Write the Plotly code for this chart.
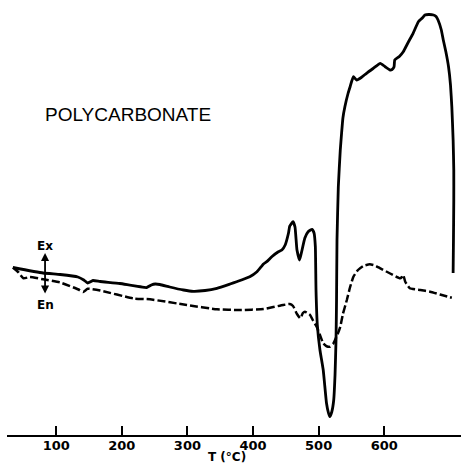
import plotly.graph_objects as go

# Solid curve (sample), temperature in deg C, signal in arbitrary units
solid_T = [34, 80, 106, 133, 142, 148, 156, 167, 197, 238,
           245, 251, 258, 273, 294, 309, 327, 345, 365, 375,
           395, 406, 416, 421, 429, 438, 444, 449, 454, 456,
           461, 464, 467, 471, 474, 479, 484, 490, 493, 495,
           496, 498, 502, 507, 512, 515, 517, 520, 523, 525,
           526.5, 527.3, 528, 530, 533, 535, 537, 540, 545, 548,
           553, 558, 565, 573, 583, 594, 601, 609, 612, 615,
           616, 623, 629, 636, 644, 652, 658, 662, 668, 675,
           679, 682, 687, 690, 694, 698, 701, 703, 705, 706,
           706, 705.5, 705]
solid_y = [167.5, 162, 160.5, 158, 155, 152, 154.5, 153.5, 151.5, 147.5,
           150, 151, 150.5, 148, 145, 143.7, 144.5, 146.7, 151, 153.3,
           158.3, 163.3, 171, 173.3, 178.5, 183, 185, 190, 201.7, 209,
           213.3, 208, 185, 175, 183, 197, 203.3, 205.7, 202, 188.3,
           145, 110, 85, 65, 31.7, 22, 18.3, 23, 35, 60,
           95, 135, 195, 248.3, 285, 302, 317, 328.3, 342, 348.3,
           358.3, 355, 357.5, 361.7, 366.5, 371.7, 368.5, 365, 365.5, 368.3,
           375, 378.5, 383.3, 392, 401.7, 413.3, 417, 420, 420.5, 420,
           418.5, 415, 405, 395, 383, 368.3, 350, 328.3, 295, 265,
           235, 195, 162]

# Dashed curve
dash_T = [34, 42, 50, 60, 80, 106, 134, 141, 148, 167,
          218, 243, 299, 345, 380, 416, 446, 456, 461, 467,
          472, 476, 479, 487, 491, 497, 502, 507, 513, 517,
          522, 525, 529, 533, 537, 543, 548, 553, 560, 568,
          578, 586, 594, 609, 624, 627, 629, 632, 639, 655,
          670, 685, 703]
dash_y = [167.5, 163, 156.7, 158, 155.7, 152.5, 145.5, 143, 146.2, 144.5,
          136.5, 135.7, 130, 125.7, 125, 126, 130, 131, 129, 121,
          116.7, 122, 123.3, 120, 115, 108.3, 100, 91.7, 88.5, 88.3,
          91, 95, 101, 108.3, 121, 135, 148, 158.3, 165, 169,
          170.7, 169.5, 166.7, 161.5, 156.7, 158, 160, 153.3, 146.7, 145,
          143.3, 140.5, 137.3]

tick_vals = [100, 200, 300, 400, 500, 600]
tick_text = ["100", "200", "300", "400", "500", "600"]

fig = go.Figure()
fig.add_trace(go.Scatter(x=solid_T, y=solid_y, mode="lines",
                         line=dict(color="black", width=2.8, shape="spline", smoothing=0.4),
                         showlegend=False, hoverinfo="skip"))
fig.add_trace(go.Scatter(x=dash_T, y=dash_y, mode="lines",
                         line=dict(color="black", width=2.5, dash="8px,3px", shape="spline", smoothing=0.4),
                         showlegend=False, hoverinfo="skip"))

# Ex / En double arrow
fig.add_annotation(x=83, y=182, ax=83, ay=140, xref="x", yref="y", axref="x", ayref="y",
                   text="", showarrow=True, arrowhead=2, startarrowhead=2,
                   arrowside="end+start", arrowwidth=1.8, arrowsize=0.9, arrowcolor="black")
fig.add_annotation(x=83, y=189, xref="x", yref="y", text="<b>Ex</b>", showarrow=False,
                   font=dict(family="DejaVu Sans", size=12, color="black"))
fig.add_annotation(x=83, y=130.5, xref="x", yref="y", text="<b>En</b>", showarrow=False,
                   font=dict(family="DejaVu Sans", size=12, color="black"))

fig.add_annotation(x=209.5, y=320.7, xref="x", yref="y", text="POLYCARBONATE", showarrow=False,
                   font=dict(family="Liberation Sans", size=19, color="black"))

fig.add_annotation(x=360, y=0, xref="x", yref="paper", yanchor="top", yshift=-13,
                   text="<b>T (°C)</b>", showarrow=False,
                   font=dict(family="DejaVu Sans", size=12, color="black"))

fig.update_xaxes(range=[25, 717], showline=True, linecolor="black", linewidth=2,
                 ticks="inside", ticklen=9, tickwidth=1.5, tickcolor="black",
                 tickvals=tick_vals, ticktext=["<b>%s</b>" % t for t in tick_text],
                 ticklabelstandoff=-3,
                 showgrid=False, zeroline=False,
                 tickfont=dict(family="DejaVu Sans", size=13, color="black"))
fig.update_yaxes(range=[0, 430], visible=False)

fig.update_layout(width=461, height=469, margin=dict(l=7, r=0, t=5, b=34),
                  plot_bgcolor="white", paper_bgcolor="white")

fig.write_html("out.html", config={"displayModeBar": False},
               post_script="document.body.style.margin='0px';")
